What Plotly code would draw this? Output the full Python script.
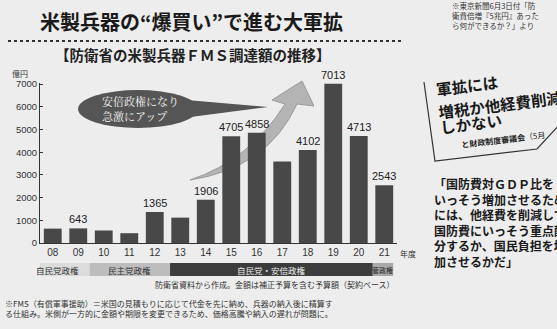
import plotly.graph_objects as go

# ---- data ----
years = ["08", "09", "10", "11", "12", "13", "14", "15", "16", "17", "18", "19", "20", "21"]
amounts = [633, 643, 551, 431, 1365, 1117, 1906, 4705, 4858, 3596, 4102, 7013, 4713, 2543]
labeled_years = ["09", "12", "14", "15", "16", "18", "19", "20", "21"]
y_ticks = [0, 1000, 2000, 3000, 4000, 5000, 6000, 7000]

# political eras: (label, start index, end index)
eras = [("自民党政権", -1.1, 1.45), ("民主党政権", 1.45, 4.6), ("自民党・安倍政権", 4.6, 12.55), ("菅政権", 12.55, 13.35)]

W, H = 557, 329
L, R, T, B = 40, 160, 83, 86
PW, PH = W - L - R, H - T - B

def px(x):
    return (x - L) / PW

def py(y):
    return (H - B - y) / PH

FONT = "Noto Sans CJK JP"

fig = go.Figure()
fig.add_trace(go.Bar(
    x=list(range(len(years))), y=amounts, marker=dict(color="#484848", line=dict(width=0)),
    width=0.7, cliponaxis=False,
))

fig.update_layout(
    width=W, height=H, margin=dict(l=L, r=R, t=T, b=B),
    paper_bgcolor="#ededed", plot_bgcolor="#ededed", showlegend=False, bargap=0.3,
    font=dict(family=FONT, color="#222"),
    xaxis=dict(range=[-0.5, 13.5], tickmode="array", tickvals=list(range(len(years))), ticktext=years,
               showgrid=False, zeroline=False, showline=True, linecolor="#333", linewidth=1,
               ticks="", tickfont=dict(size=10, family="Liberation Sans, sans-serif", color="#333")),
    yaxis=dict(range=[0, 7050], tickvals=y_ticks, showgrid=False, zeroline=False, showline=True,
               linecolor="#333", linewidth=1, ticks="inside", ticklen=3, tickcolor="#333",
               tickfont=dict(size=9.5, family="Liberation Sans Narrow, sans-serif", color="#333")),
)

shapes = []
ann = []

# bar value labels
for i, (yr, v) in enumerate(zip(years, amounts)):
    if yr in labeled_years:
        ann.append(dict(x=i, y=v, xref="x", yref="y", yanchor="bottom", xanchor="center", yshift=1,
                        text=str(v), showarrow=False,
                        font=dict(size=11, family="Liberation Sans Narrow, sans-serif", color="#222")))

# title
ann.append(dict(x=px(38), y=py(21), xref="paper", yref="paper", xanchor="left", yanchor="middle",
                text="<b>米製兵器の“爆買い”で進む大軍拡</b>", showarrow=False,
                font=dict(size=20, family="Noto Sans CJK JP", color="#1a1a1a")))
shapes.append(dict(type="line", xref="paper", yref="paper", x0=px(8), x1=px(404), y0=py(41), y1=py(41),
                   line=dict(color="#333", width=2, dash="dot")))
ann.append(dict(x=px(53), y=py(55), xref="paper", yref="paper", xanchor="left", yanchor="middle",
                text="<b>【防衛省の米製兵器ＦＭＳ調達額の推移】</b>", showarrow=False,
                font=dict(size=14.5, color="#222")))
ann.append(dict(x=px(10), y=py(73), xref="paper", yref="paper", xanchor="left", yanchor="middle",
                text="億円", showarrow=False, font=dict(size=8, color="#333")))
ann.append(dict(x=px(398), y=py(253), xref="paper", yref="paper", xanchor="left", yanchor="middle",
                text="年度", showarrow=False, font=dict(size=8, color="#333")))

def path(points):
    return "M " + " L ".join(f"{px(x):.4f},{py(y):.4f}" for x, y in points) + " Z"

def cp(x, y):
    return f"{px(x):.4f},{py(y):.4f}"

# curved gray arrow
arrow = (f"M {cp(190,180)} Q {cp(268,168)} {cp(297,104)} L {cp(314,106)} L {cp(302,81)} "
         f"L {cp(272,100)} L {cp(285,104)} Q {cp(250,160)} {cp(190,180)} Z")
shapes.append(dict(type="path", xref="paper", yref="paper", path=arrow, fillcolor="#b4b4b4",
                   line=dict(color="#9a9a9a", width=1), layer="below"))

# callout ellipse with tail
shapes.append(dict(type="path", xref="paper", yref="paper", path=path([(175, 99), (268, 107), (175, 119)]),
                   fillcolor="#555", line=dict(width=0)))
shapes.append(dict(type="circle", xref="paper", yref="paper", x0=px(78), x1=px(198), y0=py(90), y1=py(128),
                   fillcolor="#555", line=dict(width=0)))
ann.append(dict(x=px(100), y=py(101), xref="paper", yref="paper", xanchor="left", yanchor="middle",
                text="安倍政権になり", showarrow=False,
                font=dict(size=11, color="#f4f4f4", family="Noto Serif CJK JP, Noto Sans CJK JP")))
ann.append(dict(x=px(100), y=py(116), xref="paper", yref="paper", xanchor="left", yanchor="middle",
                text="急激にアップ", showarrow=False,
                font=dict(size=11, color="#f4f4f4", family="Noto Serif CJK JP, Noto Sans CJK JP")))

# era band
era_colors = ["#dcdcdc", "#bdbdbd", "#3c3c3c", "#a8a8a8"]
era_text = ["#333", "#333", "#f0f0f0", "#222"]
for (name, a, b), c, tc in zip(eras, era_colors, era_text):
    shapes.append(dict(type="rect", xref="x", yref="paper", x0=a, x1=b, y0=py(276), y1=py(263),
                       fillcolor=c, line=dict(width=0)))
    ann.append(dict(x=(a + b) / 2, y=py(269.5), xref="x", yref="paper", xanchor="center", yanchor="middle",
                    text=name, showarrow=False, font=dict(size=8.5 if name != "菅政権" else 7, color=tc)))

ann.append(dict(x=px(397), y=py(284), xref="paper", yref="paper", xanchor="right", yanchor="middle",
                text="防衛省資料から作成。金額は補正予算を含む予算額（契約ベース）", showarrow=False,
                font=dict(size=8, color="#333")))
ann.append(dict(x=px(3), y=py(308), xref="paper", yref="paper", xanchor="left", yanchor="middle",
                text="※FMS（有償軍事援助）＝米国の見積もりに応じて代金を先に納め、兵器の納入後に精算す<br>"
                     "る仕組み。米側が一方的に金額や期限を変更できるため、価格高騰や納入の遅れが問題に。",
                showarrow=False, align="left", font=dict(size=8, color="#333")))

# right side column
ann.append(dict(x=px(450), y=py(15), xref="paper", yref="paper", xanchor="left", yanchor="middle",
                text="※東京新聞6月3日付「防<br>衛費倍増『5兆円』あった<br>ら何ができるか？」より",
                showarrow=False, align="left", font=dict(size=7.5, color="#333")))
shapes.append(dict(type="path", xref="paper", yref="paper",
                   path=f"M {cp(424,82)} L {cp(435,161)} L {cp(537,149)} L {cp(560,124)}",
                   line=dict(color="#333", width=1.2)))
bubble_lines = [("軍拡には", 433, 85, 15.5), ("増税か他経費削減", 435, 104, 15.5), ("しかない", 437, 123, 15.5)]
for txt, x, y, s in bubble_lines:
    ann.append(dict(x=px(x), y=py(y), xref="paper", yref="paper", xanchor="left", yanchor="middle",
                    text=f"<b>{txt}</b>", showarrow=False, textangle=-7,
                    font=dict(size=s, color="#1a1a1a")))
ann.append(dict(x=px(458), y=py(139), xref="paper", yref="paper", xanchor="left", yanchor="middle",
                text="<b>と財政制度審議会</b>（5月", showarrow=False, align="left",
                textangle=-7, font=dict(size=8, color="#222")))
ann.append(dict(x=px(432), y=py(222), xref="paper", yref="paper", xanchor="left", yanchor="middle",
                text="<b>「国防費対ＧＤＰ比を<br>いっそう増加させるため<br>には、他経費を削減して<br>"
                     "国防費にいっそう重点配<br>分するか、国民負担を増<br>加させるかだ」</b>",
                showarrow=False, align="left", font=dict(size=12, color="#1a1a1a")))

fig.update_layout(shapes=shapes, annotations=ann)
fig.write_html("out.html")
